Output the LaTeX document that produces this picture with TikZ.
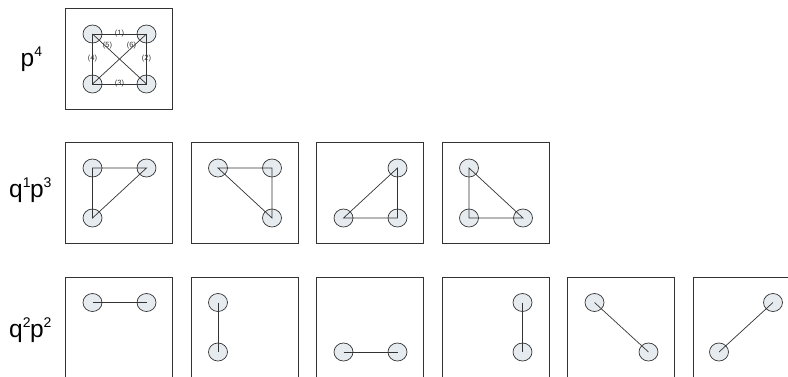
\documentclass[tikz,border=0pt]{standalone}
\usepackage{fontspec}
\setmainfont{Liberation Sans}
\usetikzlibrary{shapes.geometric}
\definecolor{vfill}{HTML}{E6EBF0}
\definecolor{ink}{HTML}{333333}
\newcommand\supx[1]{\raisebox{0.4em}{\fontsize{14}{14}\selectfont #1}}
\tikzset{
  panel/.style={draw=ink, line width=0.9pt, minimum width=107pt, minimum height=101pt, inner sep=0pt, anchor=north west},
  vtx/.style={ellipse, draw=ink, fill=vfill, line width=0.7pt, minimum width=19pt, minimum height=18pt, inner sep=0pt},
  edge/.style={draw=ink, line width=0.7pt},
  rowlab/.style={anchor=base west, inner sep=0pt, font=\fontsize{24.5}{24.5}\selectfont},
  elab/.style={inner sep=0pt, font=\fontsize{7.5}{7.5}\selectfont, text=ink}
}
\newcommand\place[4]{\node[vtx] (#1) at (#2,#3) {};}
\begin{document}
\begin{tikzpicture}[x=1pt,y=-1pt]
\useasboundingbox (0,0) rectangle (788,376);
\clip (0,0) rectangle (788,376);
\fill[white] (0,0) rectangle (788,376);

% row labels
\node[rowlab] (L1) at (20.5,66) {p\supx{4}};
\node[rowlab] (L2) at (9,197.5) {q\supx{1}\kern-0.5pt p\supx{3}};
\node[rowlab] (L3) at (9,337.5) {q\supx{2}\kern-0.5pt p\supx{2}};

% ---------- row 1: p^4 ----------
\node[panel] (A) at (65,8.3) {};
\place{Atl}{92.5}{34}{}
\place{Atr}{146.5}{34}{}
\place{Abl}{92.5}{84}{}
\place{Abr}{146.5}{84}{}
\draw[edge] (Atl.center) -- (Atr.center) -- (Abr.center) -- (Abl.center) -- cycle;
\draw[edge] (Atl.center) -- (Abr.center);
\draw[edge] (Atr.center) -- (Abl.center);
\node[elab] (e1) at (119.5,33.5) {(1)};
\node[elab] (e2) at (146.5,59) {(2)};
\node[elab] (e3) at (119.5,83.5) {(3)};
\node[elab] (e4) at (92.5,59) {(4)};
\node[elab] (e5) at (107.5,46) {(5)};
\node[elab] (e6) at (131.5,46) {(6)};

% ---------- row 2: q^1 p^3 ----------
\node[panel] (B1) at (65,142.3) {};
\place{B1tl}{92.5}{168}{}
\place{B1tr}{146.5}{168}{}
\place{B1bl}{92.5}{218}{}
\draw[edge] (B1tl.center) -- (B1tr.center) -- (B1bl.center) -- cycle;

\node[panel] (B2) at (190.5,142.3) {};
\place{B2tl}{218}{168}{}
\place{B2tr}{272}{168}{}
\place{B2br}{272}{218}{}
\draw[edge] (B2tl.center) -- (B2tr.center) -- (B2br.center) -- cycle;

\node[panel] (B3) at (316,142.3) {};
\place{B3tr}{397.5}{168}{}
\place{B3bl}{343.5}{218}{}
\place{B3br}{397.5}{218}{}
\draw[edge] (B3tr.center) -- (B3br.center) -- (B3bl.center) -- cycle;

\node[panel] (B4) at (441.5,142.3) {};
\place{B4tl}{469}{168}{}
\place{B4bl}{469}{218}{}
\place{B4br}{523}{218}{}
\draw[edge] (B4tl.center) -- (B4bl.center) -- (B4br.center) -- cycle;

% ---------- row 3: q^2 p^2 ----------
\node[panel] (C1) at (65,277.3) {};
\place{C1tl}{92.5}{302.5}{}
\place{C1tr}{146.5}{302.5}{}
\draw[edge] (C1tl.center) -- (C1tr.center);

\node[panel] (C2) at (190.5,277.3) {};
\place{C2tl}{218}{302.5}{}
\place{C2bl}{218}{352}{}
\draw[edge] (C2tl.center) -- (C2bl.center);

\node[panel] (C3) at (316,277.3) {};
\place{C3bl}{343.5}{352}{}
\place{C3br}{397.5}{352}{}
\draw[edge] (C3bl.center) -- (C3br.center);

\node[panel] (C4) at (441.5,277.3) {};
\place{C4tr}{522.5}{302.5}{}
\place{C4br}{522.5}{352}{}
\draw[edge] (C4tr.center) -- (C4br.center);

\node[panel] (C5) at (567,277.3) {};
\place{C5tl}{594.5}{302.5}{}
\place{C5br}{648.5}{352}{}
\draw[edge] (C5tl.center) -- (C5br.center);

\node[panel] (C6) at (692.5,277.3) {};
\place{C6tr}{773}{302.5}{}
\place{C6bl}{719}{352}{}
\draw[edge] (C6tr.center) -- (C6bl.center);
\end{tikzpicture}
\end{document}
